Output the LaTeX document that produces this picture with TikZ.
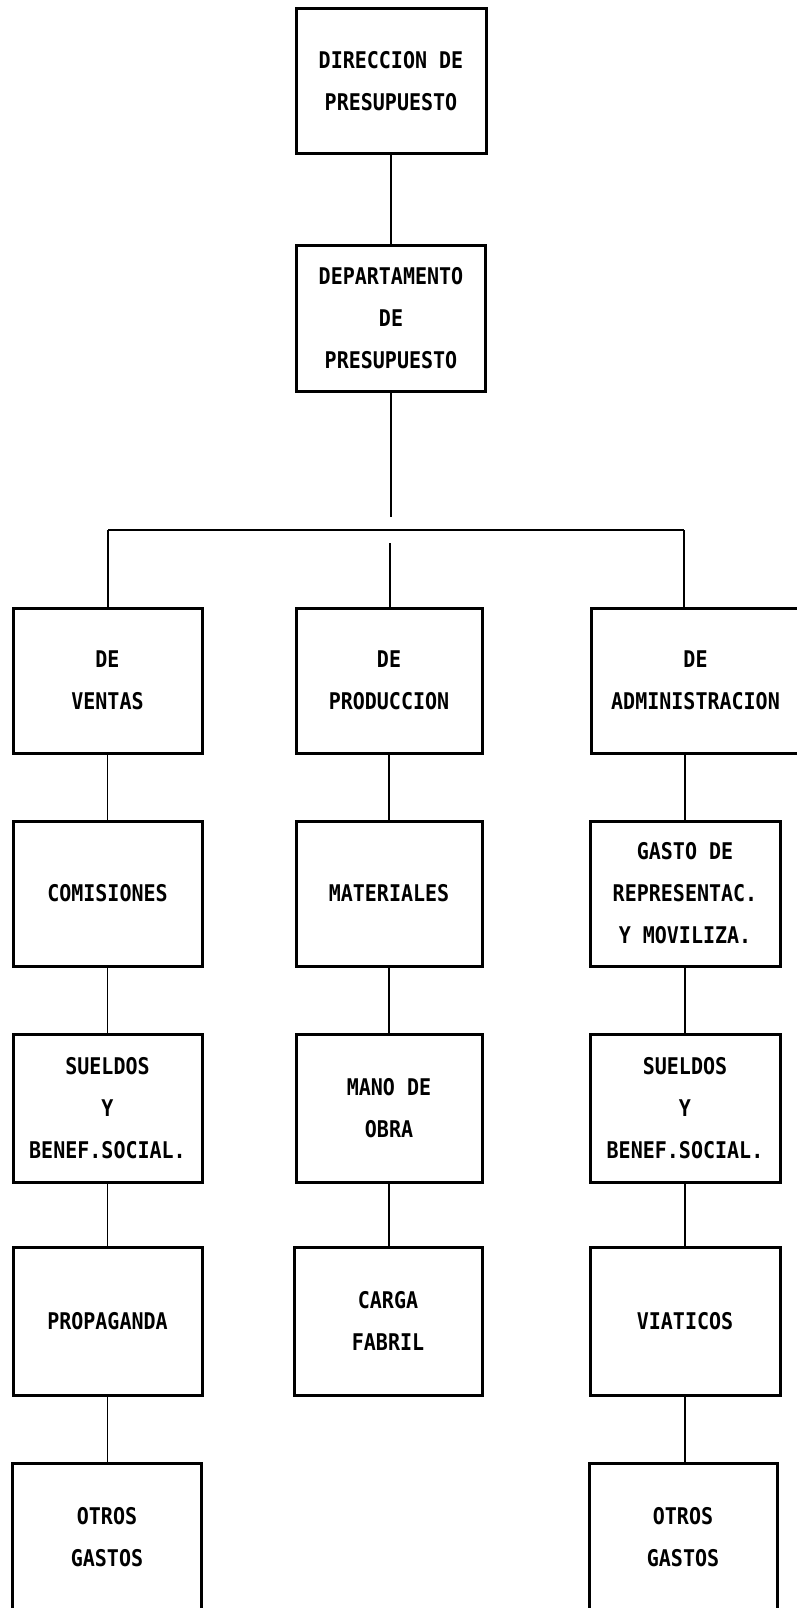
\documentclass[tikz,border=0pt]{standalone}
\usepackage{fontspec}
\newfontfamily\boxfont{DejaVu Sans Mono}[FakeStretch=0.87]
\begin{document}
\begin{tikzpicture}[x=1pt,y=-1pt,
  box/.style={draw, line width=3pt, minimum width=189pt, minimum height=146pt,
    inner sep=0pt, align=center,
    font=\boxfont\bfseries\fontsize{23}{42}\selectfont},
  link/.style={line width=1.2pt}]
\path[use as bounding box] (0,0) rectangle (797,1608);
\clip (0,0) rectangle (797,1608);

% top of the chart
\node[box, minimum width=190pt, minimum height=145pt] (dir) at (391,81.5) {DIRECCION DE\\PRESUPUESTO};
\node[box] (dept) at (391,318) {DEPARTAMENTO\\DE\\PRESUPUESTO};

% the three budget areas
\node[box, minimum height=145pt] (ven) at (107.5,680.5) {DE\\VENTAS};
\node[box, minimum width=186pt, minimum height=145pt] (pro) at (389,680.5) {DE\\PRODUCCION};
\node[box, minimum width=209pt, minimum height=145pt] (adm) at (695.5,680.5) {DE\\ADMINISTRACION};

% second level
\node[box, minimum height=145pt] (com) at (107.5,893.5) {COMISIONES};
\node[box, minimum width=186pt, minimum height=145pt] (mat) at (389,893.5) {MATERIALES};
\node[box, minimum width=190pt, minimum height=145pt] (gas) at (685,893.5) {GASTO DE\\REPRESENTAC.\\Y MOVILIZA.};

% third level
\node[box, minimum height=148pt] (sue1) at (107.5,1108) {SUELDOS\\Y\\BENEF.SOCIAL.};
\node[box, minimum width=186pt, minimum height=148pt] (man) at (389,1108) {MANO DE\\OBRA};
\node[box, minimum width=190pt, minimum height=148pt] (sue2) at (685,1108) {SUELDOS\\Y\\BENEF.SOCIAL.};

% fourth level
\node[box, minimum height=148pt] (prop) at (107.5,1321) {PROPAGANDA};
\node[box, minimum width=188pt, minimum height=148pt] (carga) at (388,1321) {CARGA\\FABRIL};
\node[box, minimum width=190pt, minimum height=148pt] (viat) at (685,1321) {VIATICOS};

% fifth level
\node[box, minimum height=148pt] (otr1) at (107,1537) {OTROS\\GASTOS};
\node[box, minimum width=188pt, minimum height=148pt] (otr2) at (683,1537) {OTROS\\GASTOS};

% connectors
\coordinate (lbus) at (108,530);
\coordinate (rbus) at (684,530);
\coordinate (mtop) at (391,517);
\coordinate (mbot) at (390,543);

\draw[link] (dir.south) -- (dir.south |- dept.north);
\draw[link] (dept.south) -- (dept.south |- mtop);
\draw[link] (lbus) -- (rbus);
\draw[link] (lbus) -- (lbus |- ven.north);
\draw[link] (mbot) -- (mbot |- pro.north);
\draw[link] (rbus) -- (rbus |- adm.north);

\draw[link] (ven.south) -- (com.north);
\draw[link] (com.south) -- (sue1.north);
\draw[link] (sue1.south) -- (prop.north);
\draw[link] (prop.south) -- (prop.south |- otr1.north);

\draw[link] (pro.south) -- (mat.north);
\draw[link] (mat.south) -- (man.north);
\draw[link] (man.south) -- (man.south |- carga.north);

\draw[link] (adm.south -| gas.north) -- (gas.north);
\draw[link] (gas.south) -- (sue2.north);
\draw[link] (sue2.south) -- (viat.north);
\draw[link] (viat.south) -- (viat.south |- otr2.north);
\end{tikzpicture}
\end{document}
